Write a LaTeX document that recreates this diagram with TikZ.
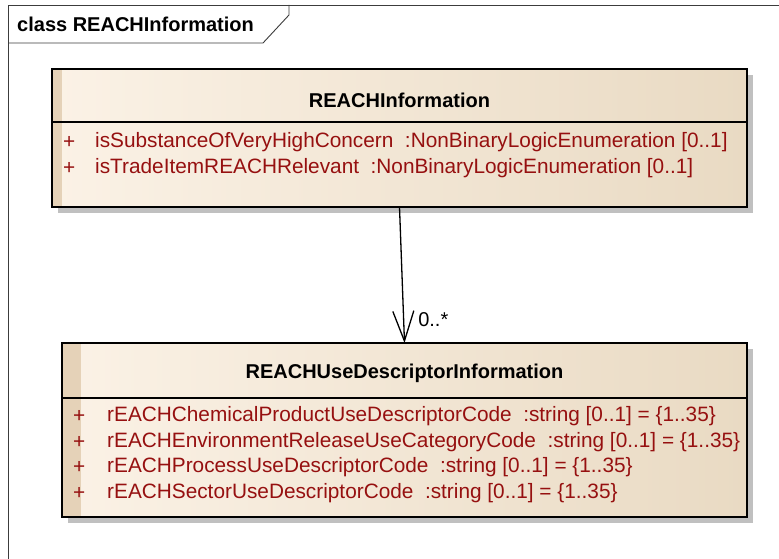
\documentclass[tikz,border=0pt]{standalone}
\usepackage{fontspec}
\setmainfont{Liberation Sans}
\usetikzlibrary{arrows.meta, calc, shadows}
\definecolor{framegray}{HTML}{3C3C3C}
\definecolor{clslight}{HTML}{FBF2E6}
\definecolor{clsdark}{HTML}{E9DAC3}
\definecolor{clsstrip}{HTML}{E5D2B8}
\definecolor{shadowgray}{HTML}{C0C0C0}
\definecolor{attrred}{HTML}{961010}
\tikzset{
  frameline/.style={draw=framegray, line width=0.9pt},
  frametitle/.style={anchor=west, inner sep=0pt, font=\fontsize{20}{24}\selectfont\bfseries},
  classbox/.style={rectangle, draw=black, line width=1.6pt, inner sep=0pt, outer sep=0pt,
                   left color=clslight, right color=clsdark,
                   drop shadow={shadow xshift=6pt, shadow yshift=-6pt, fill=shadowgray, opacity=1},
                   path picture={\fill[clsstrip] (path picture bounding box.north west)
                     rectangle ([xshift=#1]path picture bounding box.south west);}},
  sepline/.style={draw=black, line width=1.1pt},
  clstitle/.style={inner sep=0pt, font=\fontsize{20}{24}\selectfont\bfseries},
  vis/.style={anchor=west, inner sep=0pt, text=attrred, font=\fontsize{20.8}{24}\selectfont},
  attr/.style={anchor=west, inner sep=0pt, text=attrred, font=\fontsize{20.8}{24}\selectfont},
  assoc/.style={-{Straight Barb[length=30pt, width=21pt]}, line width=1.3pt, draw=black},
  mult/.style={inner sep=0pt, font=\fontsize{20}{24}\selectfont},
}

\begin{document}
\begin{tikzpicture}[x=1pt, y=-1pt]
\useasboundingbox (0,0) rectangle (779,559);

% Diagram frame and its title tab
\draw[frameline] (8,559) -- (8,5) -- (779,5);
\draw[frameline] (8,43) -- (263,43) -- (289,15) -- (289,5);
\node[frametitle] (diagtitle) at (17,24) {class REACHInformation};

% Class REACHInformation
\node[classbox=10pt, minimum width=695pt, minimum height=138pt] (reach) at (399.5,138) {};
\draw[sepline] ([yshift=-53pt]reach.north west) -- ([yshift=-53pt]reach.north east);
\node[clstitle] (reachname) at ([yshift=-31pt]reach.north) {REACHInformation};
\node[vis]  (rp1) at (63,142) {+};
\node[attr] (ra1) at (95,142) {isSubstanceOfVeryHighConcern~~:NonBinaryLogicEnumeration [0..1]};
\node[vis]  (rp2) at (63,168) {+};
\node[attr] (ra2) at (95,168) {isTradeItemREACHRelevant~~:NonBinaryLogicEnumeration [0..1]};

% Class REACHUseDescriptorInformation
\node[classbox=19pt, minimum width=685pt, minimum height=174pt] (usedesc) at (404.5,430) {};
\draw[sepline] ([yshift=-55pt]usedesc.north west) -- ([yshift=-55pt]usedesc.north east);
\node[clstitle] (usedescname) at ([yshift=-30pt]usedesc.north) {REACHUseDescriptorInformation};
\node[vis]  (up1) at (73,416) {+};
\node[attr] (ua1) at (107,416) {rEACHChemicalProductUseDescriptorCode~~:string [0..1] = \{1..35\}};
\node[vis]  (up2) at (73,442) {+};
\node[attr] (ua2) at (107,442) {rEACHEnvironmentReleaseUseCategoryCode~~:string [0..1] = \{1..35\}};
\node[vis]  (up3) at (73,467) {+};
\node[attr] (ua3) at (107,467) {rEACHProcessUseDescriptorCode~~:string [0..1] = \{1..35\}};
\node[vis]  (up4) at (73,493) {+};
\node[attr] (ua4) at (107,493) {rEACHSectorUseDescriptorCode~~:string [0..1] = \{1..35\}};

% Association
\draw[assoc] (reach.south) -- (usedesc.north)
  node[mult, pos=0.83, anchor=west, xshift=14pt] (multi) {0..*};

\end{tikzpicture}
\end{document}
